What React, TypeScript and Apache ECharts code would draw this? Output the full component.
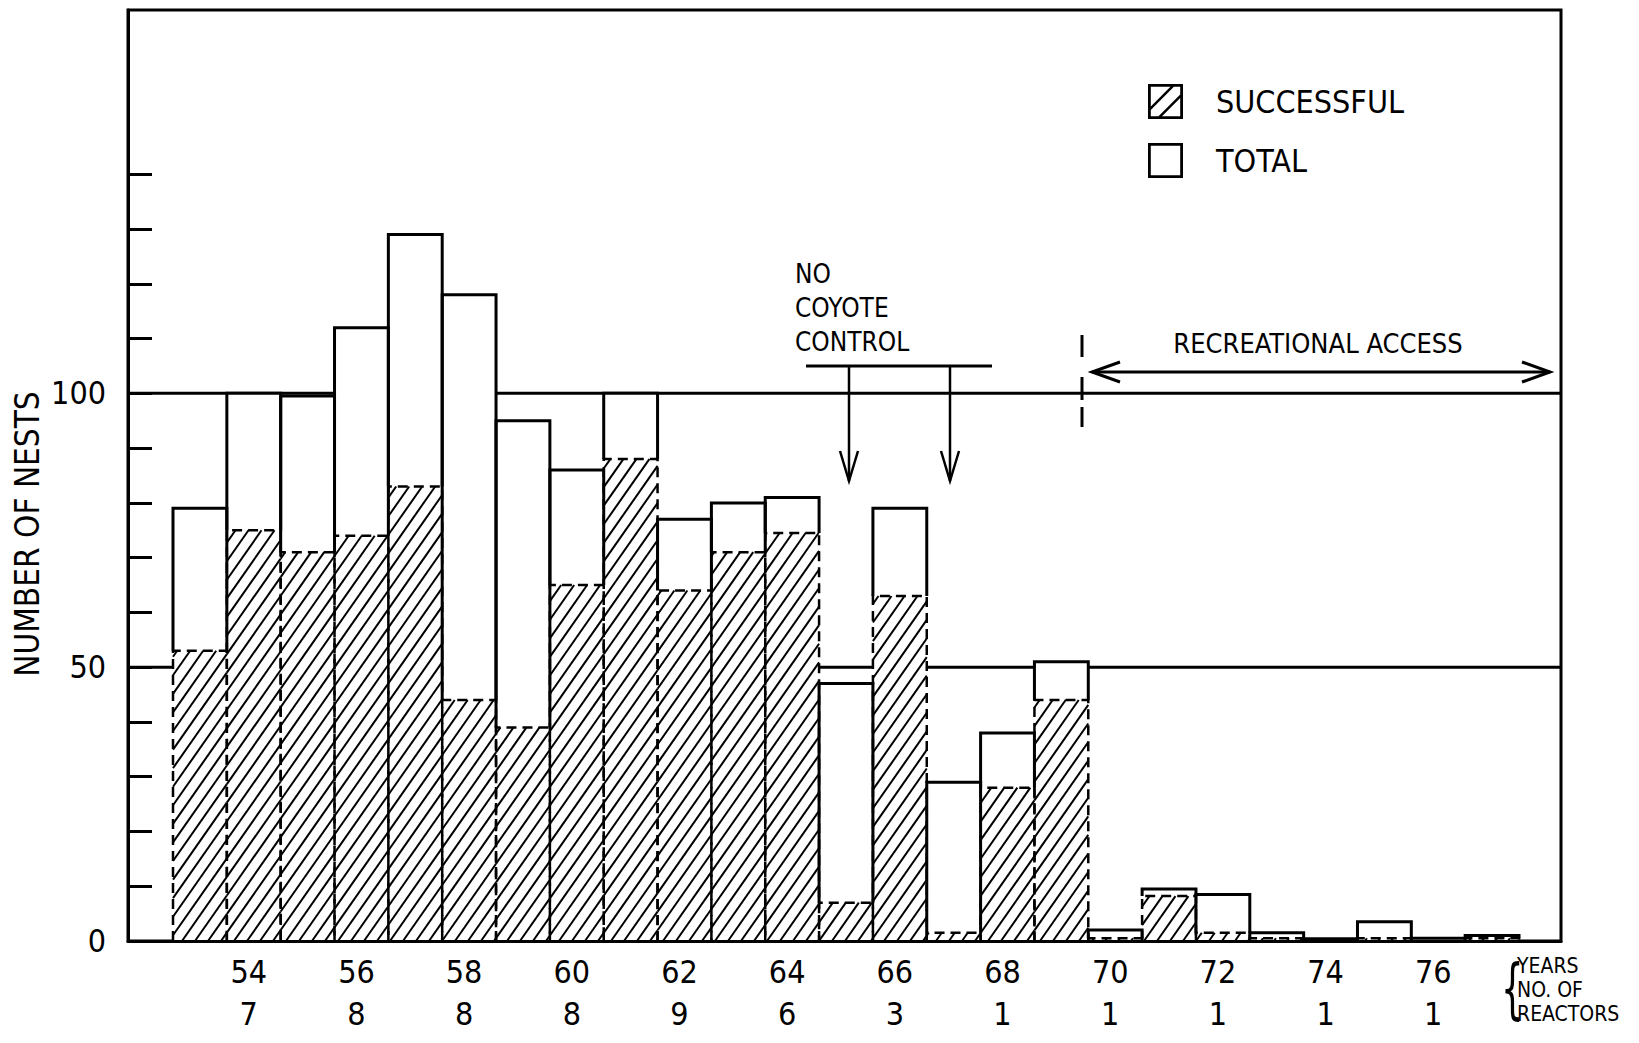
import React, { useEffect, useRef } from 'react';
import * as echarts from 'echarts';

// ---------- data ----------
const years = ['53', '54', '55', '56', '57', '58', '59', '60', '61', '62', '63', '64', '65', '66', '67', '68', '69', '70', '71', '72', '73', '74', '75', '76', '77'];
const totalNests = [79, 100, 99.5, 112, 129, 118, 95, 86, 100, 77, 80, 81, 47, 79, 29, 38, 51, 2, 9.5, 8.5, 1.5, 0.4, 3.5, 0.5, 1];
const successfulNests = [53, 75, 71, 74, 83, 44, 39, 65, 88, 64, 71, 74.5, 7, 63, 1.5, 28, 44, 0.5, 8.2, 1.5, 0.5, 0, 0.5, 0, 0.5];
const labelYears = ['54', '56', '58', '60', '62', '64', '66', '68', '70', '72', '74', '76'];
const reactorCounts = [7, 8, 8, 8, 9, 6, 3, 1, 1, 1, 1, 1];
const yTickValues = [0, 10, 20, 30, 40, 50, 60, 70, 80, 90, 100, 110, 120, 130, 140];
const yLabelValues = [0, 50, 100];
const referenceLevels = [50, 100];

const FONT = "'Liberation Sans Narrow', 'DejaVu Sans Condensed', 'Arial Narrow', 'Liberation Sans', sans-serif";

const HATCH_ICON = 'path://M0 0H100V100H0Z M8 8V92H92V8Z M8 64L64 8L74 8L8 74Z M30 92L92 30L92 40L40 92Z';
const BOX_ICON = 'path://M0 0H100V100H0Z M8 8V92H92V8Z';

function hatchLines(x0: number, x1: number, yTop: number, yBot: number, spacing: number, m: number) {
  const H = yBot - yTop;
  const out: any[] = [];
  if (H <= 0.5) return out;
  const cStart = Math.ceil((x0 - H * m) / spacing) * spacing;
  for (let c = cStart; c <= x1; c += spacing) {
    const tA = Math.max(0, (x0 - c) / m);
    const tB = Math.min(H, (x1 - c) / m);
    if (tB - tA > 0.3) {
      out.push({
        type: 'line',
        shape: { x1: c + tA * m, y1: yBot - tA, x2: c + tB * m, y2: yBot - tB },
        style: { stroke: '#000', lineWidth: 2 },
      });
    }
  }
  return out;
}

function txt(text: string, x: number, y: number, fontSize: number, align = 'left', extra: any = {}) {
  return {
    type: 'text',
    x,
    y,
    ...extra,
    style: { text, fontSize, fontFamily: FONT, fill: '#000', align, verticalAlign: 'middle' },
  };
}

function seg(x1: number, y1: number, x2: number, y2: number, w = 3) {
  return { type: 'line', shape: { x1, y1, x2, y2 }, style: { stroke: '#000', lineWidth: w } };
}

function poly(points: number[][], w = 2.5) {
  return { type: 'polyline', shape: { points }, style: { stroke: '#000', lineWidth: w, fill: 'none' } };
}

export default function App() {
  const ref = useRef<HTMLDivElement>(null);

  useEffect(() => {
    if (!ref.current) return;
    const chart = echarts.init(ref.current, null, { renderer: 'svg' });

    const barData = years.map((_, i) => [i, totalNests[i], successfulNests[i]]);

    const geom = (api: any) => {
      const idx = api.value(0);
      const bw = api.size([1, 0])[0];
      const cx = api.coord([idx, 0])[0];
      const y0 = api.coord([idx, 0])[1];
      const yT = api.coord([idx, api.value(1)])[1];
      const yS = api.coord([idx, api.value(2)])[1];
      return { x0: cx - bw / 2, x1: cx + bw / 2, bw, y0, yT, yS, succ: api.value(2) };
    };

    const option: any = {
      animation: false,
      backgroundColor: '#fff',
      textStyle: { fontFamily: FONT, color: '#000' },
      grid: [
        { left: 128, top: 10, width: 1433, height: 931, show: true, borderColor: '#000', borderWidth: 3, backgroundColor: 'transparent' },
        { left: 173, top: 10, width: 1346, height: 931, show: false },
      ],
      legend: {
        left: 1148,
        top: 84,
        orient: 'vertical',
        itemWidth: 35,
        itemHeight: 35,
        itemGap: 24,
        padding: 0,
        selectedMode: false,
        data: [
          { name: 'SUCCESSFUL', icon: HATCH_ICON },
          { name: 'TOTAL', icon: BOX_ICON },
        ],
        textStyle: { fontSize: 32, fontFamily: FONT, color: '#000', padding: [0, 0, 0, 28] },
      },
      xAxis: [
        {
          gridIndex: 0,
          type: 'value',
          min: 0,
          max: 1,
          z: 10,
          axisLine: { show: true, lineStyle: { color: '#000', width: 3 } },
          axisTick: { show: false },
          axisLabel: { show: false },
          splitLine: { show: false },
        },
        {
          gridIndex: 1,
          type: 'category',
          data: years,
          boundaryGap: true,
          axisLine: { show: false },
          axisTick: { show: false },
          splitLine: { show: false },
          axisLabel: {
            interval: (_i: number, v: string) => labelYears.indexOf(v) >= 0,
            formatter: (v: string) => {
              const k = labelYears.indexOf(v);
              return k >= 0 ? `${v}\n${reactorCounts[k]}` : '';
            },
            fontSize: 32,
            lineHeight: 42,
            margin: 10,
            color: '#000',
            fontFamily: FONT,
            padding: [0, 10, 0, 0],
          },
        },
      ],
      yAxis: [
        {
          gridIndex: 0,
          type: 'value',
          min: 0,
          max: 170,
          interval: 10,
          z: 10,
          axisLine: { show: true, lineStyle: { color: '#000', width: 3 } },
          axisTick: { show: true, inside: true, length: 24, customValues: yTickValues, lineStyle: { color: '#000', width: 3 } },
          axisLabel: { customValues: yLabelValues, margin: 22, fontSize: 32, color: '#000', fontFamily: FONT },
          splitLine: { show: false },
        },
        { gridIndex: 1, type: 'value', min: 0, max: 170, show: false },
      ],
      series: [
        ...referenceLevels.map((lvl) => ({
          type: 'line',
          name: `ref${lvl}`,
          xAxisIndex: 0,
          yAxisIndex: 0,
          data: [[0, lvl], [1, lvl]],
          symbol: 'none',
          silent: true,
          z: 1,
          lineStyle: { color: '#000', width: 3 },
        })),
        {
          type: 'custom',
          name: 'fill',
          xAxisIndex: 1,
          yAxisIndex: 1,
          z: 2,
          silent: true,
          data: barData,
          renderItem: (_p: any, api: any) => {
            const g = geom(api);
            return { type: 'rect', shape: { x: g.x0, y: g.yT, width: g.bw, height: g.y0 - g.yT }, style: { fill: '#fff' } };
          },
        },
        {
          type: 'custom',
          name: 'SUCCESSFUL',
          xAxisIndex: 1,
          yAxisIndex: 1,
          z: 3,
          silent: true,
          itemStyle: { color: '#000' },
          data: barData,
          renderItem: (_p: any, api: any) => {
            const g = geom(api);
            if (!(g.succ > 0)) return { type: 'group', children: [] };
            return {
              type: 'group',
              children: [
                ...hatchLines(g.x0, g.x1, g.yS, g.y0, 13, 0.7),
                {
                  type: 'polyline',
                  shape: { points: [[g.x0, g.y0], [g.x0, g.yS], [g.x1, g.yS], [g.x1, g.y0]] },
                  style: { fill: 'none', stroke: '#000', lineWidth: 2.5, lineDash: [10, 6] },
                },
              ],
            };
          },
        },
        {
          type: 'custom',
          name: 'TOTAL',
          xAxisIndex: 1,
          yAxisIndex: 1,
          z: 4,
          silent: true,
          itemStyle: { color: '#000' },
          data: barData,
          renderItem: (_p: any, api: any) => {
            const g = geom(api);
            return {
              type: 'polyline',
              shape: { points: [[g.x0, g.yS], [g.x0, g.yT], [g.x1, g.yT], [g.x1, g.yS]] },
              style: { fill: 'none', stroke: '#000', lineWidth: 3 },
            };
          },
        },
      ],
      graphic: [
        txt('NUMBER OF NESTS', 27, 534, 33, 'center', { rotation: Math.PI / 2 }),
        txt('NO', 795, 274, 26),
        txt('COYOTE', 795, 308, 26),
        txt('CONTROL', 795, 342, 26),
        seg(806, 366, 992, 366, 3),
        seg(849, 366, 849, 481, 2.5),
        poly([[840, 451], [849, 481], [858, 451]]),
        seg(950, 366, 950, 481, 2.5),
        poly([[941, 451], [950, 481], [959, 451]]),
        seg(1082, 335, 1082, 357, 3),
        seg(1082, 377, 1082, 400, 3),
        seg(1082, 407, 1082, 427, 3),
        seg(1092, 372, 1550, 372, 3),
        poly([[1120, 362], [1092, 372], [1120, 382]], 3),
        poly([[1522, 362], [1550, 372], [1522, 382]], 3),
        txt('RECREATIONAL ACCESS', 1318, 343, 27, 'center'),
        txt('{', 1501, 988, 66, 'left', { scaleX: 0.6 }),
        txt('YEARS', 1517, 966, 21),
        txt('NO. OF', 1517, 990, 21),
        txt('REACTORS', 1517, 1014, 21),
      ],
    };

    chart.setOption(option);
    return () => chart.dispose();
  }, []);

  return (
    <div
      ref={ref}
      style={{ position: 'fixed', left: 0, top: 0, width: 1639, height: 1043, background: '#fff' }}
    />
  );
}
